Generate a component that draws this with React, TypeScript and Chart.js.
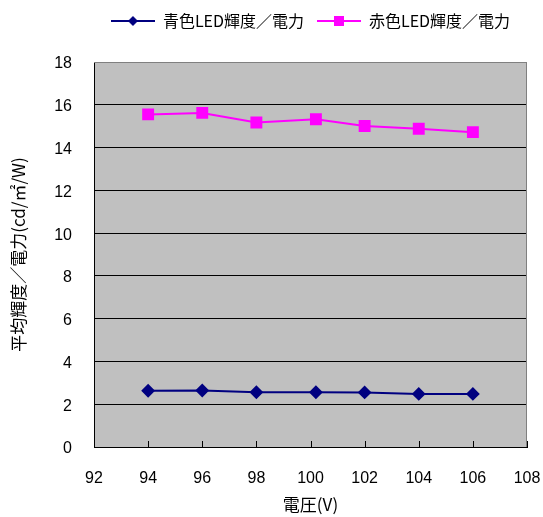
import { useEffect, useRef } from 'react';
import { Chart, registerables } from 'chart.js';

Chart.register(...registerables);

const voltages = [94, 96, 98, 100.2, 102, 104, 106];
const blueValues = [2.63, 2.64, 2.56, 2.56, 2.55, 2.48, 2.48];
const redValues = [15.55, 15.62, 15.17, 15.32, 15.01, 14.88, 14.72];
const seriesLabels = ['青色LED輝度／電力', '赤色LED輝度／電力'];
const seriesColors = ['#000080', '#FF00FF'];
const xTitle = '電圧(V)';
const yTitle = '平均輝度／電力(cd/㎡/W)';

const FONT = "'Liberation Sans', 'Noto Sans CJK JP', sans-serif";
const CJK_FONT = "'Noto Sans CJK JP', 'Liberation Sans', sans-serif";

function makeLegendIcon(color: string, kind: 'diamond' | 'square') {
  const c = document.createElement('canvas');
  c.width = 44;
  c.height = 14;
  const ctx = c.getContext('2d')!;
  ctx.strokeStyle = color;
  ctx.lineWidth = 2;
  ctx.beginPath();
  ctx.moveTo(0, 7);
  ctx.lineTo(44, 7);
  ctx.stroke();
  ctx.fillStyle = color;
  if (kind === 'diamond') {
    ctx.beginPath();
    ctx.moveTo(22, 2);
    ctx.lineTo(27, 7);
    ctx.lineTo(22, 12);
    ctx.lineTo(17, 7);
    ctx.closePath();
    ctx.fill();
  } else {
    ctx.fillRect(17, 2, 10, 10);
  }
  return c;
}

const legendHeightFix = {
  id: 'legendHeightFix',
  beforeLayout(chart: any) {
    const lg = chart.legend;
    if (lg && !lg._heightPatched) {
      const orig = lg.fit;
      lg.fit = function (this: any) {
        orig.call(this);
        this.height = 62;
      };
      lg._heightPatched = true;
    }
  },
};

const plotDecor = {
  id: 'plotDecor',
  beforeDraw(chart: any) {
    const { ctx, chartArea } = chart;
    ctx.save();
    ctx.fillStyle = '#C0C0C0';
    ctx.fillRect(chartArea.left, chartArea.top, chartArea.right - chartArea.left, chartArea.bottom - chartArea.top);
    ctx.restore();
  },
  beforeDatasetsDraw(chart: any) {
    const { ctx, chartArea, scales } = chart;
    ctx.save();
    ctx.strokeStyle = '#808080';
    ctx.lineWidth = 1;
    ctx.beginPath();
    ctx.moveTo(chartArea.left, chartArea.top + 0.5);
    ctx.lineTo(chartArea.right - 0.5, chartArea.top + 0.5);
    ctx.lineTo(chartArea.right - 0.5, chartArea.bottom);
    ctx.stroke();
    ctx.strokeStyle = '#000000';
    ctx.beginPath();
    const xs = scales.x;
    xs.ticks.forEach((t: any) => {
      const px = Math.round(xs.getPixelForValue(t.value)) + 0.5;
      ctx.moveTo(px, chartArea.bottom);
      ctx.lineTo(px, chartArea.bottom - 6);
    });
    ctx.stroke();
    ctx.restore();
  },
};

export default function App() {
  const ref = useRef<HTMLCanvasElement>(null);
  useEffect(() => {
    document.body.style.margin = '0';
    const icons = [makeLegendIcon(seriesColors[0], 'diamond'), makeLegendIcon(seriesColors[1], 'square')];
    const chart = new Chart(ref.current!, {
      type: 'line',
      data: {
        datasets: [
          {
            label: seriesLabels[0],
            data: voltages.map((v, i) => ({ x: v, y: blueValues[i] })),
            borderColor: seriesColors[0],
            backgroundColor: seriesColors[0],
            pointBackgroundColor: seriesColors[0],
            pointBorderColor: seriesColors[0],
            pointStyle: 'rectRot',
            pointRadius: 5.5,
            borderWidth: 2,
          },
          {
            label: seriesLabels[1],
            data: voltages.map((v, i) => ({ x: v, y: redValues[i] })),
            borderColor: seriesColors[1],
            backgroundColor: seriesColors[1],
            pointBackgroundColor: seriesColors[1],
            pointBorderColor: seriesColors[1],
            pointStyle: 'rect',
            pointRadius: 7,
            borderWidth: 2,
          },
        ],
      },
      options: {
        animation: false,
        responsive: false,
        maintainAspectRatio: false,
        layout: { padding: { left: 0, right: 16, top: 0, bottom: 0 } },
        plugins: {
          tooltip: { enabled: false },
          legend: {
            display: true,
            position: 'top',
            fullSize: false,
            labels: {
              color: '#000000',
              font: { family: CJK_FONT, size: 16 },
              usePointStyle: true,
              pointStyleWidth: 44,
              boxHeight: 14,
              padding: 13,
              generateLabels: (c: any) => {
                const items = Chart.defaults.plugins.legend.labels.generateLabels(c);
                items.forEach((it: any, i: number) => {
                  it.pointStyle = icons[i];
                  it.fontColor = '#000000';
                });
                return items;
              },
            },
          },
        },
        scales: {
          x: {
            type: 'linear',
            min: 92,
            max: 108,
            ticks: { stepSize: 2, color: '#000000', font: { family: FONT, size: 16 }, padding: 22, maxRotation: 0 },
            grid: { display: false, drawTicks: false },
            border: { display: true, color: '#000000', width: 1 },
            title: {
              display: true,
              text: xTitle,
              color: '#000000',
              font: { family: CJK_FONT, size: 17, lineHeight: 1.2 },
              padding: { top: 0, bottom: 2 },
            },
            afterFit: (s: any) => {
              s.height = 70;
              s.paddingLeft = 0;
              s.paddingRight = 0;
            },
          },
          y: {
            min: 0,
            max: 18,
            ticks: { stepSize: 2, color: '#000000', font: { family: FONT, size: 16 }, padding: 22, labelOffset: 2 },
            grid: {
              color: (ctx: any) => (ctx.tick && ctx.tick.value === 18 ? '#808080' : '#000000'),
              lineWidth: 1,
              drawTicks: false,
            },
            border: { display: true, color: '#000000', width: 1 },
            title: {
              display: true,
              text: yTitle,
              color: '#000000',
              font: { family: CJK_FONT, size: 17, lineHeight: 1.2 },
              padding: { top: 8, bottom: 0 },
            },
            afterFit: (s: any) => {
              s.width = 94;
              s.paddingTop = 0;
              s.paddingBottom = 0;
            },
          },
        },
      },
      plugins: [legendHeightFix, plotDecor],
    } as any);
    return () => chart.destroy();
  }, []);
  return <canvas ref={ref} width={543} height={517} style={{ display: 'block' }} />;
}
